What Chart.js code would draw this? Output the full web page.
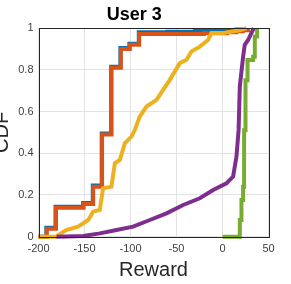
<!DOCTYPE html>
<html>
<head>
<meta charset="utf-8">
<script src="https://cdn.jsdelivr.net/npm/chart.js@4.4.1/dist/chart.umd.min.js"></script>
<style>
html,body{margin:0;padding:0;background:#fff;}
canvas{display:block;}
</style>
</head>
<body>
<canvas id="c" width="291" height="284"></canvas>
<script>
// ---- data ----
const titleText = "User 3";
const xLabel = "Reward";
const yLabel = "CDF";
const xTicks = [-200, -150, -100, -50, 0, 50];
const yTicks = [0, 0.2, 0.4, 0.6, 0.8, 1];

const blueX = [-200, -191.5, -181.5, -151.5, -141, -131.3, -121, -111, -101.2, -91, -60, -30, 0, 15, 24];
const blueY = [0, 0.043, 0.144, 0.162, 0.245, 0.495, 0.815, 0.905, 0.925, 0.98, 0.983, 0.987, 0.99, 0.993, 1.0];

const orangeX = [-200, -191, -181, -151, -140.6, -130.9, -120.7, -110.5, -100.8, -90.6, -20, 5, 15, 22, 28];
const orangeY = [0, 0.038, 0.139, 0.157, 0.24, 0.49, 0.81, 0.90, 0.92, 0.972, 0.975, 0.98, 0.985, 0.99, 1.0];

const yellowX = [-200, -181, -170, -157, -146, -140.6, -133.4, -129.8, -120.7, -117, -111.6, -106.2, -99, -95.3, -90, -82.6, -71.7, -64.5, -57.3, -46.4, -39.1, -33.7, -24.7, -15.7, -12, 0.4, 18.8, 26];
const yellowY = [0, 0, 0.032, 0.048, 0.08, 0.12, 0.128, 0.232, 0.24, 0.352, 0.368, 0.448, 0.48, 0.512, 0.576, 0.624, 0.656, 0.704, 0.752, 0.832, 0.848, 0.888, 0.911, 0.943, 0.976, 0.976, 0.99, 1.0];

const purpleX = [-180.4, -151.5, -133.4, -115.2, -97.2, -79, -60.9, -42.8, -24.7, -10.2, 4.3, 11.5, 15.2, 17.5, 18.8, 22.4, 24.2, 27.8, 34];
const purpleY = [0, 0.003, 0.016, 0.032, 0.048, 0.08, 0.112, 0.152, 0.184, 0.224, 0.256, 0.288, 0.384, 0.512, 0.72, 0.863, 0.92, 0.943, 1.0];

const greenX = [0, 17, 18.8, 20.6, 22.4, 23.5, 25, 27.2, 33.3, 35.1, 37.6];
const greenY = [0, 0, 0.08, 0.176, 0.24, 0.51, 0.75, 0.847, 0.863, 0.96, 1.0];

const FONT = "'Liberation Sans', Arial, Helvetica, sans-serif";
const pts = (xs, ys) => xs.map((x, i) => ({x: x, y: ys[i]}));

function ds(xs, ys, color, stepped, order) {
  return {
    data: pts(xs, ys),
    borderColor: color,
    backgroundColor: color,
    borderWidth: 4,
    pointRadius: 0,
    stepped: stepped,
    tension: 0,
    clip: 4,
    order: order,
    borderJoinStyle: 'miter',
    fill: false
  };
}

const frame = {
  id: 'frame',
  afterDatasetsDraw(chart) {
    const a = chart.chartArea, ctx = chart.ctx;
    ctx.save();
    ctx.strokeStyle = '#262626';
    ctx.lineWidth = 1;
    ctx.strokeRect(Math.round(a.left) + 0.5, Math.round(a.top) + 0.5, Math.round(a.right - a.left), Math.round(a.bottom - a.top));
    ctx.restore();
  }
};

new Chart(document.getElementById('c'), {
  type: 'line',
  data: {
    datasets: [
      ds(blueX, blueY, '#0072BD', true, 4),
      ds(orangeX, orangeY, '#D95319', true, 3),
      ds(yellowX, yellowY, '#EDB120', false, 2),
      ds(purpleX, purpleY, '#7E2F8E', false, 1),
      ds(greenX, greenY, '#77AC30', true, 0)
    ]
  },
  options: {
    responsive: false,
    animation: false,
    devicePixelRatio: 1,
    layout: { padding: { left: 0, right: 22.5, top: 0, bottom: 0 } },
    plugins: {
      legend: { display: false },
      tooltip: { enabled: false },
      title: {
        display: true,
        text: titleText,
        color: '#000',
        font: { family: FONT, size: 18, weight: 'bold' },
        padding: { top: 4, bottom: 2.5 }
      }
    },
    scales: {
      x: {
        type: 'linear',
        min: -200, max: 50,
        afterBuildTicks(s) { s.ticks = xTicks.map(v => ({value: v})); },
        afterFit(s) { s.height = 47.3; },
        grid: { color: '#e3e3e3', drawTicks: false },
        border: { display: false },
        ticks: { color: '#404040', font: { family: FONT, size: 11 }, padding: 6, maxRotation: 0,
                 callback: v => String(Number(v.toFixed(1))) },
        title: { display: true, text: xLabel, color: '#262626', font: { family: FONT, size: 20 }, padding: { top: 0, bottom: 1.3 } }
      },
      y: {
        type: 'linear',
        min: 0, max: 1,
        afterBuildTicks(s) { s.ticks = yTicks.map(v => ({value: v})); },
        afterFit(s) { s.width = 38.5; },
        grid: { color: '#e3e3e3', drawTicks: false },
        border: { display: false },
        ticks: { color: '#404040', font: { family: FONT, size: 11 }, padding: 5,
                 callback: v => String(Number(v.toFixed(1))) },
        title: { display: true, text: yLabel, color: '#262626', font: { family: FONT, size: 20 }, padding: { top: -10, bottom: 0 } }
      }
    }
  },
  plugins: [frame]
});
</script>
</body>
</html>
